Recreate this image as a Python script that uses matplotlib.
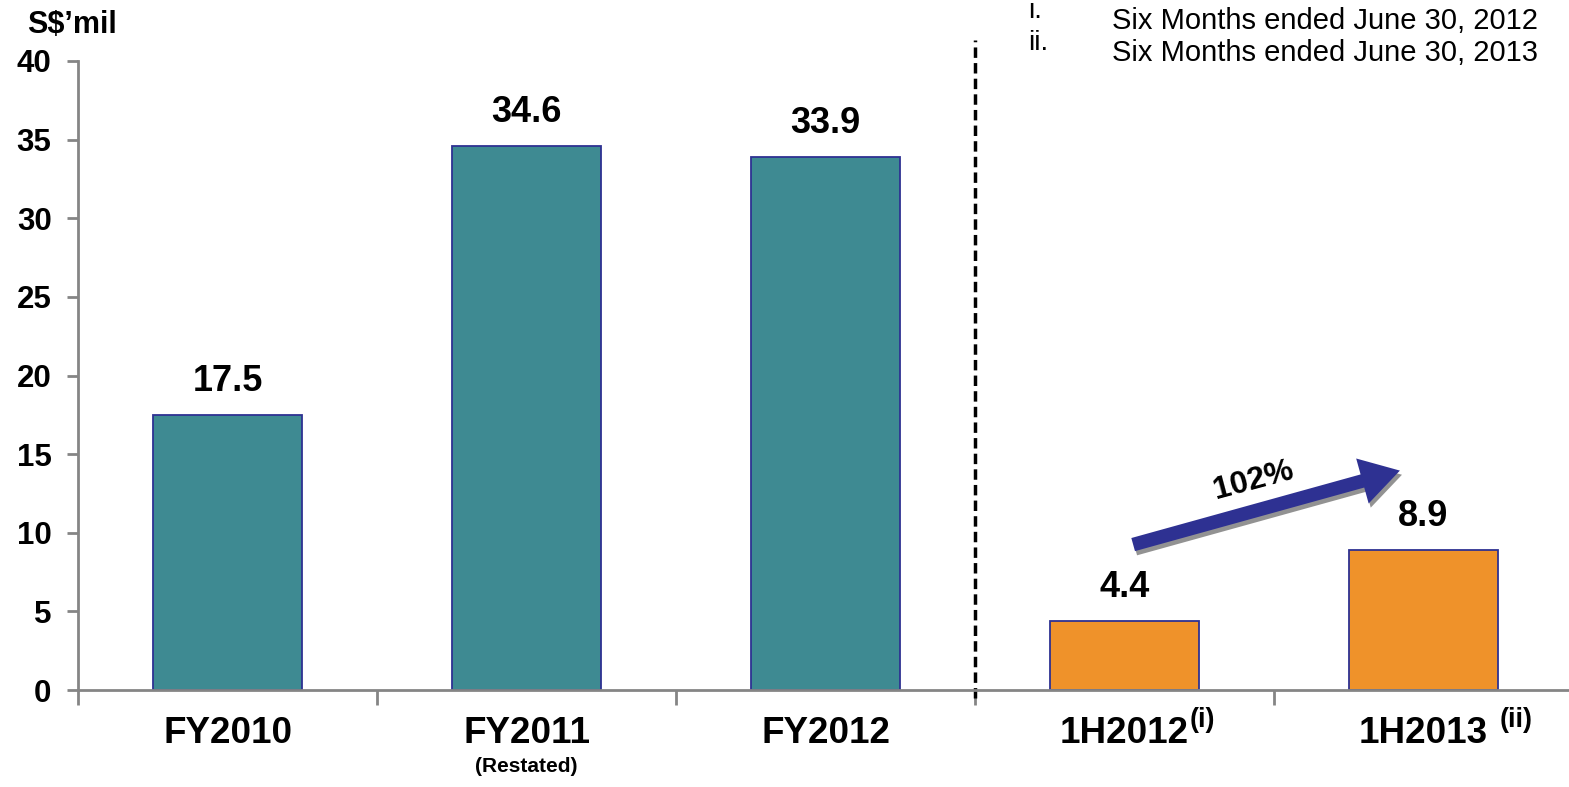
import matplotlib.pyplot as plt
import matplotlib.patheffects as pe
from matplotlib.patches import FancyArrowPatch

plt.rcParams['font.family'] = ['Liberation Sans', 'DejaVu Sans']

# data
categories = ['FY2010', 'FY2011', 'FY2012', '1H2012', '1H2013']
values = [17.5, 34.6, 33.9, 4.4, 8.9]
value_labels = ['17.5', '34.6', '33.9', '4.4', '8.9']
superscripts = ['', '', '', '(i)', '(ii)']
bar_colors = ['#3E8A92', '#3E8A92', '#3E8A92', '#EF922A', '#EF922A']
yticks = [0, 5, 10, 15, 20, 25, 30, 35, 40]
notes = [('i.', 'Six Months ended June 30, 2012'),
         ('ii.', 'Six Months ended June 30, 2013')]
growth_label = '102%'

W, H = 1569, 787
fig = plt.figure(figsize=(W / 100, H / 100), dpi=100)
ax = fig.add_axes([78 / W, 97 / H, 1495 / W, 629 / H])

x = list(range(len(categories)))
ax.bar(x, values, width=0.5, color=bar_colors, edgecolor='#2E3192', linewidth=1.3)

for xi, v, lab in zip(x, values, value_labels):
    ax.text(xi, v + 1.0, lab, ha='center', va='bottom', fontsize=26, fontweight='bold')

ax.set_xlim(-0.5, len(categories) - 0.5)
ax.set_ylim(0, 40)
ax.set_yticks(yticks)
ax.set_yticklabels([str(t) for t in yticks], fontsize=22.5, fontweight='bold')

# category labels without tick marks, boundary ticks as minor
ax.set_xticks(x)
ax.set_xticklabels([])
ax.set_xticks([i - 0.5 for i in x], minor=True)
ax.tick_params(axis='x', which='major', length=0)
ax.tick_params(axis='x', which='minor', length=11, width=2, color='#858585', direction='out')
ax.tick_params(axis='y', length=8, width=2, color='#858585', pad=11)

sup_dx = {'(i)': 0.5, '(ii)': 8}
for xi, cat, sup in zip(x, categories, superscripts):
    t = ax.text(xi, -2.75, cat, ha='center', va='center', fontsize=26.5, fontweight='bold')
    if sup:
        ax.annotate(sup, xy=(1, 0), xycoords=t, xytext=(sup_dx[sup], 17), textcoords='offset points',
                    ha='left', va='baseline', fontsize=19.5, fontweight='bold')
ax.text(1, -4.85, '(Restated)', ha='center', va='center', fontsize=15, fontweight='bold')

for side in ['top', 'right']:
    ax.spines[side].set_visible(False)
for side in ['left', 'bottom']:
    ax.spines[side].set_color('#858585')
    ax.spines[side].set_linewidth(2)

# divider between annual and half-year figures
ax.axvline(2.5, ymin=-0.012, ymax=1.033, color='black', linestyle=(0, (3, 1.5)),
           linewidth=2.5, clip_on=False)

fig.text(27 / W, 1 - 33 / H, "S$’mil", ha='left', va='baseline', fontsize=22, fontweight='bold')

# growth arrow
start = (3 + 0.02, values[3] + 4.8)
end = (3 + 0.93, values[4] + 5.1)
arrow = FancyArrowPatch(start, end, arrowstyle='simple,head_width=2.4,head_length=2.0,tail_width=0.7',
                        mutation_scale=14, color='#2E3192', linewidth=0)
arrow.set_path_effects([pe.SimplePatchShadow(offset=(1.5, -3), shadow_rgbFace='#777777', alpha=0.8),
                        pe.Normal()])
ax.add_patch(arrow)
ax.text(3.43, 13.3, growth_label, ha='center', va='center', fontsize=23, fontweight='bold',
        rotation=15)

# footnotes
for i, (num, txt) in enumerate(notes):
    y = 1 - (21 + 32 * i) / H
    fig.text(1028 / W, y + 10 / H, num, ha='left', va='center', fontsize=20)
    fig.text(1112 / W, y, txt, ha='left', va='center', fontsize=21)

fig.savefig('out.png', dpi=100)
